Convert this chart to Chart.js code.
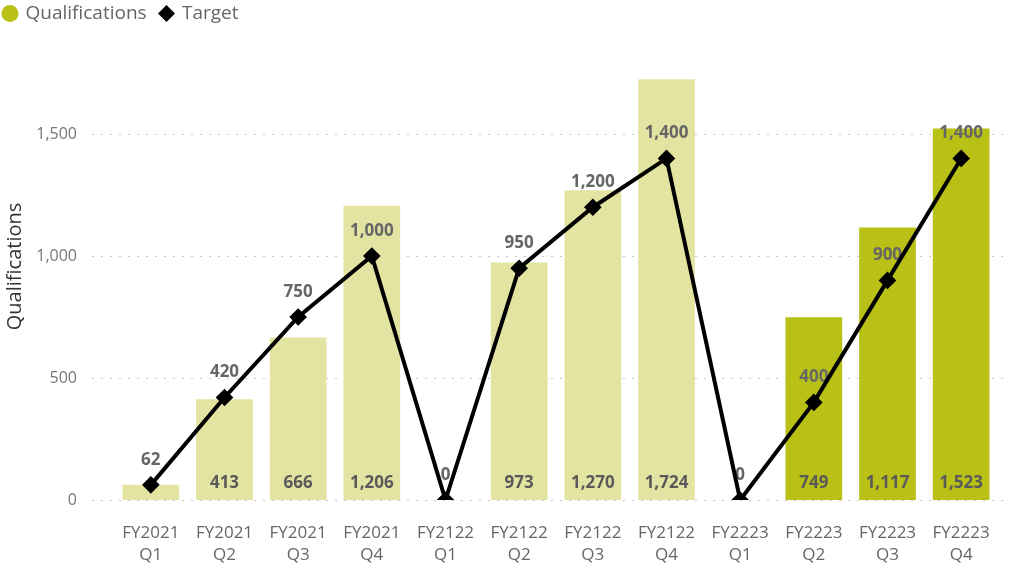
<!DOCTYPE html>
<html>
<head>
<meta charset="utf-8">
<script src="https://cdn.jsdelivr.net/npm/chart.js@4"></script>
<style>
  html, body { margin: 0; padding: 0; background: #fff; }
  #wrap { width: 1017px; height: 568px; }
</style>
</head>
<body>
<div id="wrap"><canvas id="chart" width="1017" height="568"></canvas></div>
<script>
// Chart data
const categories = [
  ['FY2021', 'Q1'], ['FY2021', 'Q2'], ['FY2021', 'Q3'], ['FY2021', 'Q4'],
  ['FY2122', 'Q1'], ['FY2122', 'Q2'], ['FY2122', 'Q3'], ['FY2122', 'Q4'],
  ['FY2223', 'Q1'], ['FY2223', 'Q2'], ['FY2223', 'Q3'], ['FY2223', 'Q4']
];
const qualifications = [62, 413, 666, 1206, 0, 973, 1270, 1724, 0, 749, 1117, 1523];
const targets = [62, 420, 750, 1000, 0, 950, 1200, 1400, 0, 400, 900, 1400];
const yTicks = [0, 500, 1000, 1500];
const currentYear = 'FY2223';

// Theme
const fontFamily = "'Segoe UI', 'Open Sans', sans-serif";
const darkOlive = '#B9C016';
const lightOlive = '#E3E4A1';

const fmt = v => v.toLocaleString('en-US');

// Dotted horizontal grid lines, a bit wider than the plot area
const gridPlugin = {
  id: 'dottedGrid',
  beforeDatasetsDraw(chart) {
    const { ctx, chartArea, scales: { y } } = chart;
    ctx.save();
    ctx.strokeStyle = '#c8c8c8';
    ctx.lineWidth = 1;
    ctx.setLineDash([2, 7]);
    y.ticks.forEach(t => {
      const py = Math.round(y.getPixelForValue(t.value)) + 0.5;
      ctx.beginPath();
      ctx.moveTo(chartArea.left - 22, py);
      ctx.lineTo(chartArea.right + 12, py);
      ctx.stroke();
    });
    ctx.restore();
  }
};

// Value labels, drawn after the bars so the line sits on top
const labelPlugin = {
  id: 'valueLabels',
  afterDatasetDraw(chart, args) {
    if (args.index !== 0) return;
    const { ctx } = chart;
    const y = chart.scales.y;
    const barMeta = chart.getDatasetMeta(0);
    const lineMeta = chart.getDatasetMeta(1);
    ctx.save();
    ctx.font = `bold 17px ${fontFamily}`;
    ctx.textAlign = 'center';
    ctx.textBaseline = 'middle';
    barMeta.data.forEach((bar, i) => {
      if (qualifications[i] < 100) return;
      ctx.fillStyle = '#5a5a5a';
      ctx.fillText(fmt(qualifications[i]), bar.x, y.getPixelForValue(0) - 17);
    });
    lineMeta.data.forEach((pt, i) => {
      ctx.fillStyle = '#666';
      ctx.fillText(fmt(targets[i]), pt.x, pt.y - 25);
    });
    ctx.restore();
  }
};

new Chart(document.getElementById('chart'), {
  type: 'bar',
  data: {
    labels: categories,
    datasets: [
      {
        type: 'bar',
        label: 'Qualifications',
        data: qualifications,
        backgroundColor: c => categories[c.dataIndex][0] === currentYear ? darkOlive : lightOlive,
        borderWidth: 0,
        categoryPercentage: 1,
        barPercentage: 0.77,
        order: 1
      },
      {
        type: 'line',
        label: 'Target',
        data: targets,
        borderColor: '#000',
        borderWidth: 4,
        pointStyle: 'rectRot',
        pointRadius: 6,
        pointBackgroundColor: '#000',
        pointBorderColor: '#000',
        tension: 0,
        order: 0
      }
    ]
  },
  options: {
    responsive: false,
    animation: false,
    layout: { padding: { left: 0, right: 19, top: 0, bottom: 0 } },
    plugins: {
      legend: {
        position: 'top',
        align: 'start',
        labels: {
          usePointStyle: true,
          boxWidth: 12,
          boxHeight: 12,
          padding: 4,
          color: '#666',
          font: { family: fontFamily, size: 19 },
          // trailing spaces leave a gap before the next legend item
          generateLabels: () => [
            { text: 'Qualifications  ', fillStyle: darkOlive, strokeStyle: darkOlive, lineWidth: 0, pointStyle: 'circle', datasetIndex: 0, hidden: false, fontColor: '#666' },
            { text: 'Target', fillStyle: '#000', strokeStyle: '#000', lineWidth: 0, pointStyle: 'rectRot', datasetIndex: 1, hidden: false, fontColor: '#666' }
          ]
        }
      },
      tooltip: { enabled: false }
    },
    scales: {
      x: {
        grid: { display: false, drawTicks: false },
        border: { display: false },
        ticks: {
          color: '#666',
          padding: 22,
          font: { family: fontFamily, size: 17, lineHeight: '22px' }
        },
        afterFit: scale => { scale.height = 68; }
      },
      y: {
        min: 0,
        max: 1914,
        grid: { display: false, drawTicks: false },
        border: { display: false },
        ticks: {
          stepSize: 500,
          color: '#777',
          padding: 37,
          font: { family: fontFamily, size: 16 },
          callback: v => fmt(v)
        },
        afterBuildTicks: scale => {
          scale.ticks = yTicks.map(v => ({ value: v }));
        },
        title: {
          display: true,
          text: 'Qualifications',
          color: '#333',
          font: { family: fontFamily, size: 20 },
          padding: { top: 3, bottom: 0 }
        },
        afterFit: scale => {
          scale.width = 114;
          scale.paddingTop = 0;
          scale.paddingBottom = 0;
        }
      }
    }
  },
  plugins: [gridPlugin, labelPlugin]
});
</script>
</body>
</html>
